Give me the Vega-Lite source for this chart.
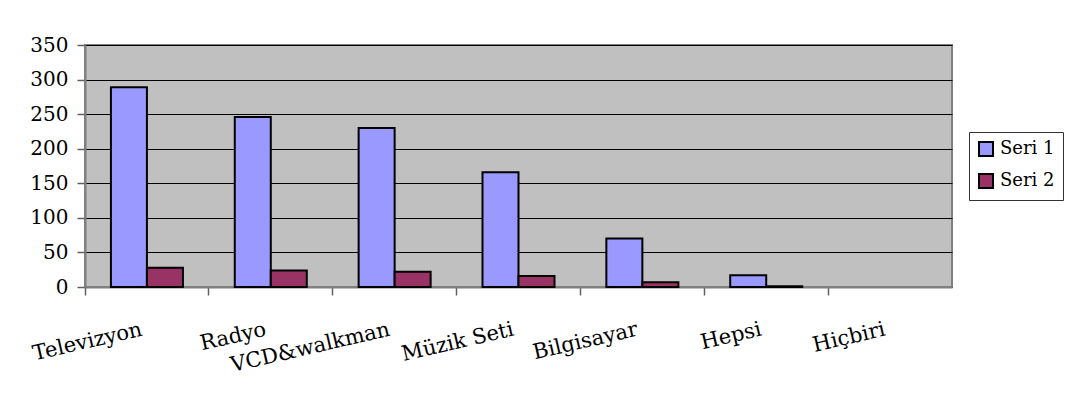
{
  "$schema": "https://vega.github.io/schema/vega-lite/v6.json",
  "width": 867,
  "height": 242,
  "autosize": {"type": "none"},
  "padding": {"left": 85, "top": 45, "right": 114, "bottom": 116},
  "background": "white",
  "data": {
    "values": [
      {"kategori": "Televizyon", "seri": "Seri 1", "deger": 289},
      {"kategori": "Televizyon", "seri": "Seri 2", "deger": 28},
      {"kategori": "Radyo", "seri": "Seri 1", "deger": 246},
      {"kategori": "Radyo", "seri": "Seri 2", "deger": 24},
      {"kategori": "VCD&walkman", "seri": "Seri 1", "deger": 230},
      {"kategori": "VCD&walkman", "seri": "Seri 2", "deger": 22},
      {"kategori": "Müzik Seti", "seri": "Seri 1", "deger": 166},
      {"kategori": "Müzik Seti", "seri": "Seri 2", "deger": 16},
      {"kategori": "Bilgisayar", "seri": "Seri 1", "deger": 70},
      {"kategori": "Bilgisayar", "seri": "Seri 2", "deger": 7},
      {"kategori": "Hepsi", "seri": "Seri 1", "deger": 17},
      {"kategori": "Hepsi", "seri": "Seri 2", "deger": 1},
      {"kategori": "Hiçbiri", "seri": "Seri 1", "deger": 0},
      {"kategori": "Hiçbiri", "seri": "Seri 2", "deger": 0}
    ]
  },
  "mark": {"type": "bar", "stroke": "black"},
  "encoding": {
    "x": {
      "field": "kategori",
      "type": "nominal",
      "sort": null,
      "scale": {"paddingInner": 0, "paddingOuter": 0},
      "axis": {
        "title": null,
        "bandPosition": 0,
        "grid": false,
        "labelOffset": -5,
        "labelAngle": -13,
        "labelAlign": "right",
        "labelBaseline": "middle",
        "labelPadding": 34,
        "labelFont": "DejaVu Serif",
        "labelFontSize": 21,
        "labelColor": "black",
        "tickSize": 8,
        "tickColor": "#606060",
        "tickWidth": 1.5,
        "domainColor": "#808080",
        "domainWidth": 2
      }
    },
    "xOffset": {
      "field": "seri",
      "type": "nominal",
      "scale": {"paddingInner": 0, "paddingOuter": 0.72}
    },
    "y": {
      "field": "deger",
      "type": "quantitative",
      "scale": {"domain": [0, 350], "nice": false},
      "axis": {
        "title": null,
        "values": [0, 50, 100, 150, 200, 250, 300, 350],
        "grid": true,
        "gridColor": "black",
        "gridWidth": 1,
        "gridOpacity": 1,
        "labelFont": "DejaVu Serif",
        "labelFontSize": 20,
        "labelColor": "black",
        "labelPadding": 9,
        "tickSize": 8,
        "tickColor": "#606060",
        "tickWidth": 1.5,
        "domainColor": "#808080",
        "domainWidth": 2
      }
    },
    "strokeWidth": {
      "condition": {"test": "datum.deger == 0", "value": 0},
      "value": 2
    },
    "color": {
      "field": "seri",
      "type": "nominal",
      "scale": {"domain": ["Seri 1", "Seri 2"], "range": ["#9999FF", "#993366"]},
      "legend": {
        "title": null,
        "orient": "none",
        "legendX": 884,
        "legendY": 87,
        "strokeColor": "#333333",
        "fillColor": "white",
        "padding": 8,
        "symbolType": "square",
        "symbolSize": 196,
        "symbolStrokeColor": "black",
        "symbolStrokeWidth": 2,
        "symbolOpacity": 1,
        "labelFont": "DejaVu Serif",
        "labelFontSize": 18,
        "labelColor": "black",
        "labelOffset": 5,
        "rowPadding": 10
      }
    }
  },
  "config": {
    "view": {"fill": "#C0C0C0", "stroke": "#808080", "strokeWidth": 2}
  }
}
